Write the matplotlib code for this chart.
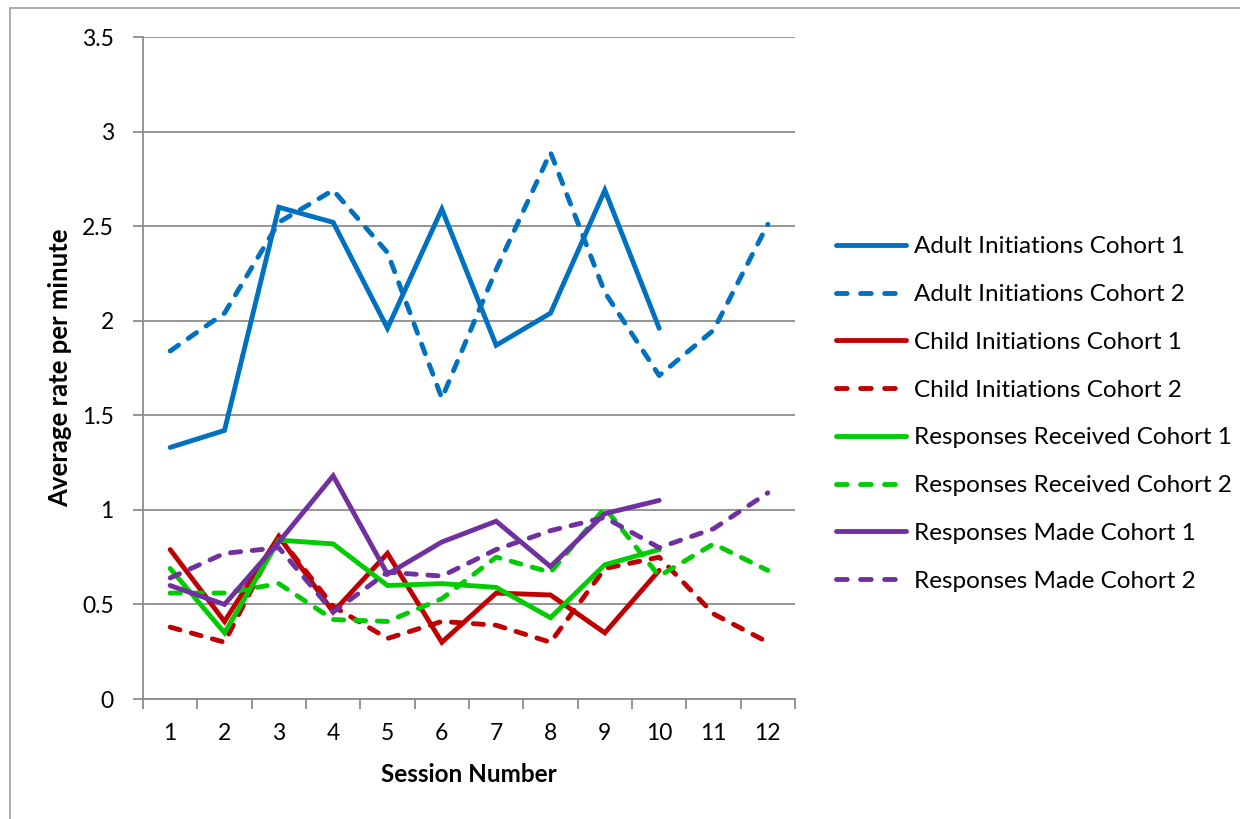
import matplotlib
matplotlib.use("Agg")
import matplotlib.pyplot as plt
from matplotlib.patches import Rectangle
from matplotlib.lines import Line2D

plt.rcParams['font.family'] = ['Lato', 'DejaVu Sans']

sessions = list(range(1, 13))

adult_c1 = [1.33, 1.42, 2.60, 2.52, 1.96, 2.59, 1.87, 2.04, 2.69, 1.96]
adult_c2 = [1.84, 2.04, 2.52, 2.69, 2.36, 1.59, 2.27, 2.89, 2.15, 1.71, 1.95, 2.51]
child_c1 = [0.79, 0.41, 0.86, 0.46, 0.77, 0.30, 0.56, 0.55, 0.35, 0.68]
child_c2 = [0.38, 0.30, 0.86, 0.49, 0.32, 0.41, 0.39, 0.30, 0.69, 0.75, 0.45, 0.30]
recv_c1 = [0.69, 0.35, 0.84, 0.82, 0.60, 0.61, 0.59, 0.43, 0.71, 0.79]
recv_c2 = [0.56, 0.56, 0.61, 0.42, 0.41, 0.53, 0.75, 0.67, 1.01, 0.65, 0.82, 0.68]
made_c1 = [0.60, 0.50, 0.83, 1.18, 0.66, 0.83, 0.94, 0.70, 0.98, 1.05]
made_c2 = [0.64, 0.77, 0.80, 0.46, 0.67, 0.65, 0.79, 0.89, 0.96, 0.80, 0.90, 1.09]

blue = '#0070c0'
red = '#c00000'
green = '#00cc00'
purple = '#7030a0'

series = [
    ("Adult Initiations Cohort 1", adult_c1, blue, '-'),
    ("Adult Initiations Cohort 2", adult_c2, blue, '--'),
    ("Child Initiations Cohort 1", child_c1, red, '-'),
    ("Child Initiations Cohort 2", child_c2, red, '--'),
    ("Responses Received Cohort 1", recv_c1, green, '-'),
    ("Responses Received Cohort 2", recv_c2, green, '--'),
    ("Responses Made Cohort 1", made_c1, purple, '-'),
    ("Responses Made Cohort 2", made_c2, purple, '--'),
]

fig = plt.figure(figsize=(12.4, 8.19), dpi=100)
ax = fig.add_axes([143/1240, 1-699/819, (795-143)/1240, (699-37)/819])

# chart area border
fig.patches.append(Rectangle((10/1240, -0.01), 1.0, 1.0, transform=fig.transFigure,
                             fill=False, edgecolor='#a0a0a0', linewidth=1.2))

lw = 3.5
handles = []
for name, vals, col, ls in series:
    x = sessions[:len(vals)]
    if ls == '--':
        ax.plot(x, vals, color=col, linewidth=lw, dashes=(2.1, 2.4),
                dash_capstyle='round', dash_joinstyle='round')
        # legend key: three even dashes
        handles.append(Line2D([], [], color=col, linewidth=lw, dashes=(2.2, 2.75),
                              dash_capstyle='round', label=name))
    else:
        ax.plot(x, vals, color=col, linewidth=lw, solid_capstyle='round',
                solid_joinstyle='miter')
        handles.append(Line2D([], [], color=col, linewidth=lw,
                              solid_capstyle='round', label=name))

ax.set_xlim(0.5, 12.5)
ax.set_ylim(0, 3.5)
ax.set_yticks([0, 0.5, 1, 1.5, 2, 2.5, 3, 3.5])
ax.set_yticklabels(['0', '0.5', '1', '1.5', '2', '2.5', '3', '3.5'])
ax.yaxis.grid(True, color='#8c8c8c', linewidth=1.3)
ax.set_axisbelow(True)

# ticks between sessions, labels centred on sessions
ax.set_xticks([i + 0.5 for i in range(0, 13)])
ax.set_xticklabels([])
ax.set_xticks(sessions, minor=True)
ax.set_xticklabels([str(s) for s in sessions], minor=True)
ax.tick_params(axis='x', which='major', direction='out', length=7, color='#8c8c8c', width=1.3)
ax.tick_params(axis='x', which='minor', length=0, pad=17, labelsize=16.5)
ax.tick_params(axis='y', direction='out', length=7, color='#8c8c8c', width=1.3, pad=14, labelsize=16.5)

for s in ['top', 'right']:
    ax.spines[s].set_visible(False)
for s in ['left', 'bottom']:
    ax.spines[s].set_color('#8c8c8c')
    ax.spines[s].set_linewidth(1.3)

ax.set_xlabel("Session Number", fontsize=17.5, fontweight='bold', labelpad=14)
ax.set_ylabel("Average rate per minute", fontsize=18.5, fontweight='bold', labelpad=7)

fig.legend(handles=handles, loc='center left', bbox_to_anchor=(836/1240, 1-414/819),
           frameon=False, fontsize=17.5, handlelength=2.9, handletextpad=0.3,
           labelspacing=1.1, borderpad=0, borderaxespad=0)

fig.savefig("out.png", dpi=100)
